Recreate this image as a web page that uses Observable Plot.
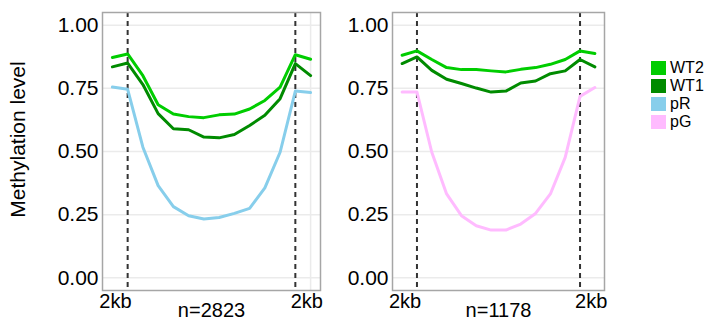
<!DOCTYPE html>
<html>
<head>
<meta charset="utf-8">
<script src="https://cdn.jsdelivr.net/npm/d3@7"></script>
<script src="https://cdn.jsdelivr.net/npm/@observablehq/plot@0.6"></script>
<style>
  html, body { margin: 0; padding: 0; background: #fff; }
  #root { position: relative; width: 711px; height: 325px; font-family: "Liberation Sans", Arial, sans-serif; }
  .panel { position: absolute; top: 0; }
  #legend { position: absolute; left: 651px; top: 59px; }
  .row { display: flex; align-items: center; height: 18px; }
  .sw { width: 15px; height: 14px; margin-right: 4px; }
  .lab { font-size: 16px; color: #000; line-height: 16px; }
</style>
</head>
<body>
<div id="root">
  <div id="left" class="panel" style="left:0px"></div>
  <div id="right" class="panel" style="left:330px"></div>
  <div id="legend"></div>
</div>
<script>
// Bin index along the region (2kb upstream, body, 2kb downstream)
const bins = [0, 1, 2, 3, 4, 5, 6, 7, 8, 9, 10, 11, 12, 13];
const boundaries = [1, 12];
const xTickAt = [0.2, 12.75];
const xTickLabels = ["2kb", "2kb"];
const yTicks = [0, 0.25, 0.5, 0.75, 1];
const yTitle = "Methylation level";

const seriesNames = ["WT2", "WT1", "pR", "pG"];
const seriesColors = ["#00cd00", "#008b00", "#87ceeb", "#ffbbff"];

// Left panel (n=2823)
const leftLabel = "n=2823";
const leftWT2 = [0.872, 0.886, 0.800, 0.685, 0.648, 0.638, 0.634, 0.645, 0.648, 0.668, 0.702, 0.755, 0.883, 0.865];
const leftWT1 = [0.835, 0.850, 0.765, 0.650, 0.590, 0.586, 0.557, 0.554, 0.567, 0.603, 0.643, 0.709, 0.848, 0.800];
const leftPR  = [0.755, 0.746, 0.517, 0.365, 0.282, 0.246, 0.233, 0.239, 0.255, 0.275, 0.356, 0.497, 0.739, 0.733];

// Right panel (n=1178)
const rightLabel = "n=1178";
const rightWT2 = [0.881, 0.898, 0.864, 0.832, 0.824, 0.824, 0.819, 0.815, 0.825, 0.832, 0.845, 0.864, 0.898, 0.888];
const rightWT1 = [0.848, 0.874, 0.821, 0.786, 0.769, 0.751, 0.735, 0.739, 0.771, 0.779, 0.808, 0.819, 0.864, 0.835];
const rightPG  = [0.735, 0.735, 0.497, 0.332, 0.246, 0.206, 0.189, 0.189, 0.213, 0.255, 0.332, 0.477, 0.718, 0.753];

function toRows(values, name) {
  return bins.map((b, i) => ({bin: b, value: values[i], series: name}));
}

function panel({series, label, width, marginLeft, marginRight, showTitle, extraGrid}) {
  const rows = series.flatMap(([vals, name]) => toRows(vals, name));
  const marks = [
    Plot.ruleY(yTicks, {y: d => d, stroke: "#ebebeb", strokeWidth: 1.5}),
  ];
  if (extraGrid) marks.push(Plot.ruleX(extraGrid, {x: d => d, stroke: "#ebebeb", strokeWidth: 1.5}));
  marks.push(
    Plot.ruleX(boundaries, {x: d => d, stroke: "#333", strokeWidth: 2, strokeDasharray: "5,4"}),
    Plot.line(rows, {x: "bin", y: "value", z: "series", stroke: "series", strokeWidth: 3, strokeLinejoin: "round"}),
    Plot.frame({stroke: "#a6a6a6", strokeWidth: 1.5}),
    Plot.axisY(yTicks, {tickSize: 0, tickPadding: 4, tickFormat: d3.format(".2f"), label: null, fontSize: 21}),
    Plot.axisX(xTickAt, {tickSize: 0, tickPadding: 3, tickFormat: (d, i) => xTickLabels[i], label: null, fontSize: 20}),
    Plot.text([label], {text: d => d, frameAnchor: "bottom", dy: 26, fontSize: 20, fill: "#000"})
  );
  if (showTitle) marks.push(Plot.text([yTitle], {text: d => d, frameAnchor: "left", textAnchor: "middle", rotate: -90, dx: -84, dy: -12, fontSize: 21, fill: "#000"}));
  return Plot.plot({
    width, height: 325,
    marginLeft, marginRight, marginTop: 12, marginBottom: 35,
    style: {fontFamily: "'Liberation Sans', Arial, sans-serif", fontSize: "20px", color: "#000", background: "transparent", overflow: "visible"},
    x: {domain: [-0.65, 13.65]},
    y: {domain: [-0.05, 1.05]},
    color: {domain: seriesNames, range: seriesColors},
    marks
  });
}

document.getElementById("left").append(panel({
  series: [[leftPR, "pR"], [leftWT1, "WT1"], [leftWT2, "WT2"]],
  label: leftLabel, width: 330, marginLeft: 102, marginRight: 10, showTitle: true, extraGrid: [13]
}));
document.getElementById("right").append(panel({
  series: [[rightPG, "pG"], [rightWT1, "WT1"], [rightWT2, "WT2"]],
  label: rightLabel, width: 290, marginLeft: 62, marginRight: 16, showTitle: false
}));

const legend = document.getElementById("legend");
seriesNames.forEach((name, i) => {
  const row = document.createElement("div");
  row.className = "row";
  const sw = document.createElement("div");
  sw.className = "sw";
  sw.style.background = seriesColors[i];
  const lab = document.createElement("span");
  lab.className = "lab";
  lab.textContent = name;
  row.append(sw, lab);
  legend.append(row);
});
</script>
</body>
</html>
